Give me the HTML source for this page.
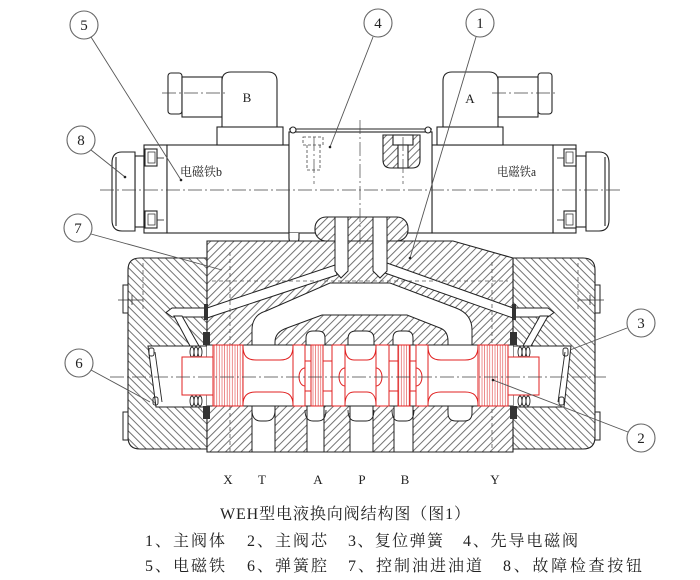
<!DOCTYPE html>
<html><head><meta charset="utf-8">
<style>html,body{margin:0;padding:0;background:#fff}svg{display:block}</style>
</head>
<body>
<svg xmlns="http://www.w3.org/2000/svg" width="700" height="580" viewBox="0 0 700 580">
<defs>
<pattern id="hf" patternUnits="userSpaceOnUse" width="5.5" height="5.5" patternTransform="rotate(45)"><rect width="5.5" height="5.5" fill="#fff"/><line x1="0.5" y1="0" x2="0.5" y2="5.5" stroke="#444" stroke-width="0.75"/></pattern>
<pattern id="hb" patternUnits="userSpaceOnUse" width="5.5" height="5.5" patternTransform="rotate(-45)"><rect width="5.5" height="5.5" fill="#fff"/><line x1="0.5" y1="0" x2="0.5" y2="5.5" stroke="#444" stroke-width="0.75"/></pattern>
<pattern id="hr" patternUnits="userSpaceOnUse" width="2.6" height="10"><rect width="2.6" height="10" fill="#fff"/><line x1="1" y1="0" x2="1" y2="10" stroke="#e04040" stroke-width="0.6"/></pattern>
</defs>
<rect width="700" height="580" fill="#fff"/>

<!-- ===== Solenoid b (left) ===== -->
<g fill="#fff" stroke="#222" stroke-width="1.1">
  <rect x="135" y="156" width="9" height="71"/>
  <path d="M135,152 L122,152 Q112,152 112,163 L112,220 Q112,231 122,231 L135,231 Z"/>
  <line x1="116" y1="157" x2="116" y2="226"/>
  <rect x="144" y="145" width="23" height="88"/>
  <rect x="167" y="145" width="122" height="88"/>
  <rect x="145" y="149" width="12" height="17"/>
  <rect x="148" y="152" width="7" height="11" stroke-width="0.7"/>
  <rect x="145" y="211" width="12" height="17"/>
  <rect x="148" y="214" width="7" height="11" stroke-width="0.7"/>
  <line x1="157" y1="158" x2="164" y2="158" stroke-width="0.8"/>
  <line x1="157" y1="220" x2="164" y2="220" stroke-width="0.8"/>
  <!-- connector B -->
  <rect x="168" y="73" width="14" height="41" rx="3"/>
  <rect x="182" y="77" width="40" height="40"/>
  <path d="M222,127 L222,81 Q222,72 231,72 L268,72 Q277,72 277,81 L277,127 Z"/>
  <rect x="217" y="127" width="66" height="18"/>
</g>

<!-- ===== Solenoid a (right) ===== -->
<g fill="#fff" stroke="#222" stroke-width="1.1">
  <rect x="576" y="156" width="10" height="71"/>
  <path d="M586,152 L599,152 Q609,152 609,163 L609,220 Q609,231 599,231 L586,231 Z"/>
  <line x1="605" y1="157" x2="605" y2="226"/>
  <rect x="553" y="145" width="23" height="88"/>
  <rect x="432" y="145" width="121" height="88"/>
  <rect x="564" y="149" width="12" height="17"/>
  <rect x="566" y="152" width="7" height="11" stroke-width="0.7"/>
  <rect x="564" y="211" width="12" height="17"/>
  <rect x="566" y="214" width="7" height="11" stroke-width="0.7"/>
  <line x1="557" y1="158" x2="564" y2="158" stroke-width="0.8"/>
  <line x1="557" y1="220" x2="564" y2="220" stroke-width="0.8"/>
  <!-- connector A -->
  <rect x="538" y="73" width="14" height="41" rx="3"/>
  <rect x="498" y="77" width="40" height="40"/>
  <path d="M443,127 L443,81 Q443,72 452,72 L489,72 Q498,72 498,81 L498,127 Z"/>
  <rect x="437" y="127" width="66" height="18"/>
</g>

<!-- ===== Pilot valve body ===== -->
<g stroke="#222" stroke-width="1.1" fill="#fff">
  <rect x="289" y="132" width="143" height="101"/>
  <line x1="289" y1="129" x2="432" y2="129"/>
  <circle cx="293" cy="130" r="3"/>
  <circle cx="428" cy="130" r="3"/>
  <path d="M383,135 L383,160 Q383,168 391,168 L412,168 Q420,168 420,160 L420,135 Z" fill="url(#hf)"/>
  <rect x="393" y="135" width="20" height="10"/>
  <rect x="398" y="145" width="10" height="23"/>
  <path d="M289,233 L289,238 Q289,243 294,243 Q299,243 299,238 L299,233" />
</g>
<g stroke="#444" stroke-width="0.8" fill="none" stroke-dasharray="3,2">
  <rect x="303" y="137" width="20" height="8"/>
  <line x1="307" y1="145" x2="307" y2="170"/>
  <line x1="320" y1="145" x2="320" y2="170"/>
  <line x1="307" y1="170" x2="320" y2="170"/>
</g>

<!-- ===== End caps ===== -->
<path d="M140,258 L207,258 L207,449 L140,449 Q128,449 128,437 L128,270 Q128,258 140,258 Z" fill="url(#hb)" stroke="#222" stroke-width="1.1"/>
<path d="M513,258 L583,258 Q595,258 595,270 L595,437 Q595,449 583,449 L513,449 Z" fill="url(#hb)" stroke="#222" stroke-width="1.1"/>
<g fill="#fff" stroke="#222" stroke-width="1">
  <rect x="123" y="285" width="5" height="28"/>
  <rect x="123" y="412" width="5" height="28"/>
  <rect x="595" y="285" width="5" height="28"/>
  <rect x="595" y="412" width="5" height="28"/>
</g>

<!-- ===== Center block ===== -->
<path d="M207,241 L453,241 L513,258 L513,452 L207,452 Z" fill="url(#hf)" stroke="#222" stroke-width="1.1"/>

<!-- pilot bump -->
<rect x="315" y="217" width="93" height="24" rx="11" fill="url(#hf)" stroke="#222" stroke-width="1.1"/>

<!-- white cavities -->
<g fill="#fff" stroke="#222" stroke-width="1">
  <!-- sloped channels -->
  <polygon points="207,308 335,265 337,275 207,318"/>
  <polygon points="387,263 513,308 513,318 385,273"/>
  <!-- bolts -->
  <path d="M335,217 L335,271 L341,278 L348,271 L348,217 Z"/>
  <path d="M373,217 L373,271 L380,278 L387,271 L387,217 Z"/>
  <!-- arch -->
  <path d="M252,346 L252,330 Q252,315 266,311 L330,283 L390,283 L456,308 Q472,314 472,330 L472,346 L448,346 L448,341 Q448,331 440,328 L407,315 L322,315 L287,328 Q275,332 275,342 L275,346 Z"/>
  <!-- upper chambers -->
  <path d="M306,347 L306,338 Q306,331 313,331 L318,331 Q325,331 325,338 L325,347"/>
  <path d="M348,347 L348,339 Q348,331 356,331 L366,331 Q374,331 374,339 L374,347"/>
  <path d="M393,347 L393,338 Q393,331 400,331 L406,331 Q413,331 413,338 L413,347"/>
  <!-- lower channels -->
  <rect x="252" y="404" width="23" height="48"/>
  <rect x="307" y="404" width="17" height="48"/>
  <rect x="350" y="404" width="23" height="48"/>
  <rect x="394" y="404" width="19" height="48"/>
  <path d="M448,404 L448,413 Q448,421 456,421 L464,421 Q472,421 472,413 L472,404"/>
  <!-- spring chambers -->
  <polygon points="148,346 207,346 207,407 156,407"/>
  <polygon points="513,346 571,346 564,407 513,407"/>
  <!-- drill holes -->
  <path d="M207,308 L172,308 L166,312.5 L172,317 L207,317 Z"/>
  <polygon points="174,316 182,316 199,346 190,346"/>
  <path d="M513,308 L548,308 L554,312.5 L548,317 L513,317 Z"/>
  <polygon points="540,316 548,316 531,346 523,346"/>
</g>
<g fill="none" stroke="#222" stroke-width="0.9">
  <path d="M252,410 Q252,421 261,421 L266,421 Q275,421 275,410"/>
  <path d="M305,410 Q305,421 313,421 L318,421 Q326,421 326,410"/>
  <path d="M348,410 Q348,421 356,421 L366,421 Q374,421 374,410"/>
  <path d="M392,410 Q392,421 399,421 L406,421 Q414,421 414,410"/>
</g>

<!-- bore -->
<rect x="207" y="345" width="306" height="61" fill="#fff"/>
<g stroke="#222" stroke-width="1">
  <line x1="207" y1="345" x2="513" y2="345"/>
  <line x1="207" y1="406" x2="513" y2="406"/>
</g>

<!-- hidden lines -->
<g stroke="#555" stroke-width="0.8" fill="none" stroke-dasharray="4,3">
  <line x1="212" y1="281" x2="508" y2="281"/>
  <line x1="230" y1="252" x2="230" y2="452"/>
  <line x1="492" y1="262" x2="492" y2="452"/>
  <line x1="143" y1="263" x2="143" y2="312"/>
  <line x1="578" y1="263" x2="578" y2="312"/>
</g>

<!-- seals -->
<g fill="#333">
  <rect x="203" y="332" width="7" height="13"/>
  <rect x="203" y="406" width="7" height="13"/>
  <rect x="510" y="332" width="7" height="13"/>
  <rect x="510" y="406" width="7" height="13"/>
  <rect x="204" y="304" width="4" height="16"/>
  <rect x="512" y="304" width="4" height="16"/>
</g>

<!-- springs -->
<g fill="none" stroke="#222" stroke-width="0.9">
  <ellipse cx="192" cy="352" rx="2" ry="5"/><ellipse cx="196" cy="352" rx="2" ry="5"/><ellipse cx="200" cy="352" rx="2" ry="5"/>
  <ellipse cx="192" cy="401" rx="2" ry="5"/><ellipse cx="196" cy="401" rx="2" ry="5"/><ellipse cx="200" cy="401" rx="2" ry="5"/>
  <ellipse cx="520" cy="352" rx="2" ry="5"/><ellipse cx="524" cy="352" rx="2" ry="5"/><ellipse cx="528" cy="352" rx="2" ry="5"/>
  <ellipse cx="520" cy="401" rx="2" ry="5"/><ellipse cx="524" cy="401" rx="2" ry="5"/><ellipse cx="528" cy="401" rx="2" ry="5"/>
  <line x1="155" y1="352" x2="162" y2="402"/>
  <line x1="565" y1="352" x2="558" y2="402"/>
  <rect x="149" y="348" width="5" height="8" rx="2"/>
  <rect x="153" y="397" width="5" height="8" rx="2"/>
  <rect x="563" y="348" width="5" height="8" rx="2"/>
  <rect x="559" y="397" width="5" height="8" rx="2"/>
</g>

<!-- ===== Spool (red) ===== -->
<g stroke="#e02020" stroke-width="1" fill="#fff">
  <rect x="182" y="357" width="31" height="38"/>
  <rect x="508" y="357" width="31" height="38"/>
  <path d="M243,346 C243,356 247,360 256,360 L280,360 C289,360 293,356 293,346 L293,405 C293,396 289,392 280,392 L256,392 C247,392 243,396 243,405 Z"/>
  <path d="M428,346 C428,356 432,360 441,360 L465,360 C474,360 478,356 478,346 L478,405 C478,396 474,392 465,392 L441,392 C432,392 428,396 428,405 Z"/>
  <path d="M345,346 C345,355 348,360 354,360 L367,360 C373,360 376,355 376,346 L376,405 C376,397 373,392 367,392 L354,392 C348,392 345,397 345,405 Z"/>
  <rect x="305" y="361" width="6" height="30"/>
  <rect x="323" y="361" width="9" height="30"/>
  <rect x="389" y="361" width="9" height="30"/>
  <rect x="410" y="361" width="6" height="30"/>
  <rect x="213" y="345" width="30" height="61" fill="url(#hr)"/>
  <rect x="478" y="345" width="30" height="61" fill="url(#hr)"/>
  <rect x="311" y="345" width="12" height="61" fill="url(#hr)"/>
  <rect x="398" y="345" width="12" height="61" fill="url(#hr)"/>
  <rect x="293" y="345" width="12" height="61"/>
  <rect x="332" y="345" width="13" height="61"/>
  <rect x="376" y="345" width="13" height="61"/>
  <rect x="416" y="345" width="12" height="61"/>
  <path d="M305,368 A6,9 0 0 0 305,386" fill="none"/>
  <path d="M345,368 A6,9 0 0 0 345,386" fill="none"/>
  <path d="M376,368 A6,9 0 0 1 376,386" fill="none"/>
  <path d="M416,368 A6,9 0 0 1 416,386" fill="none"/>
</g>

<!-- center lines -->
<g stroke="#444" stroke-width="0.7" fill="none" stroke-dasharray="14,3,2,3">
  <line x1="110" y1="377" x2="606" y2="377"/>
  <line x1="100" y1="190" x2="620" y2="190"/>
  <line x1="360" y1="120" x2="360" y2="245"/>
  <line x1="162" y1="93" x2="228" y2="93"/>
  <line x1="492" y1="93" x2="558" y2="93"/>
  <line x1="314" y1="137" x2="314" y2="184"/>
  <line x1="403" y1="137" x2="403" y2="184"/>
</g>
<g stroke="#333" stroke-width="0.8">
  <line x1="118" y1="300" x2="143" y2="300"/>
  <line x1="132" y1="295" x2="132" y2="305"/>
  <line x1="578" y1="300" x2="604" y2="300"/>
  <line x1="590" y1="295" x2="590" y2="305"/>
</g>

<!-- ===== Leaders ===== -->
<g stroke="#555" stroke-width="0.9" fill="none">
  <line x1="91" y1="37" x2="181" y2="180"/>
  <line x1="373" y1="37" x2="330" y2="147"/>
  <line x1="476" y1="37" x2="410" y2="258"/>
  <line x1="91" y1="150" x2="125" y2="177"/>
  <line x1="91" y1="234" x2="222" y2="270"/>
  <line x1="91" y1="370" x2="150" y2="402"/>
  <line x1="627" y1="328" x2="570" y2="350"/>
  <line x1="628" y1="432" x2="493" y2="380"/>
</g>
<g fill="#222">
  <circle cx="181" cy="180" r="1.3"/><circle cx="330" cy="147" r="1.3"/>
  <circle cx="410" cy="258" r="1.3"/><circle cx="125" cy="177" r="1.3"/>
  <circle cx="493" cy="380" r="1.3"/>
</g>
<g fill="#fff" stroke="#666" stroke-width="1.1">
  <circle cx="84" cy="25" r="14"/>
  <circle cx="378" cy="23" r="14"/>
  <circle cx="480" cy="23" r="14"/>
  <circle cx="81" cy="140" r="14"/>
  <circle cx="78" cy="228" r="14"/>
  <circle cx="79" cy="363" r="14"/>
  <circle cx="641" cy="323" r="14"/>
  <circle cx="641" cy="438" r="14"/>
</g>
<g font-family="'Liberation Serif', serif" font-size="15" fill="#222" text-anchor="middle">
  <text x="84" y="30">5</text>
  <text x="378" y="28">4</text>
  <text x="480" y="28">1</text>
  <text x="81" y="145">8</text>
  <text x="78" y="233">7</text>
  <text x="79" y="368">6</text>
  <text x="641" y="328">3</text>
  <text x="641" y="443">2</text>
</g>

<!-- connector / solenoid labels -->
<g font-family="'Liberation Serif', serif" font-size="13" fill="#222" text-anchor="middle">
  <text x="247" y="102">B</text>
  <text x="470" y="103">A</text>
</g>
<g font-family="'Liberation Serif', 'Noto Serif CJK SC', serif" font-size="12.5" fill="#222">
  <text x="180" y="176" textLength="42" lengthAdjust="spacingAndGlyphs">电磁铁b</text>
  <text x="497" y="176" textLength="39" lengthAdjust="spacingAndGlyphs">电磁铁a</text>
</g>

<!-- port labels -->
<g font-family="'Liberation Serif', serif" font-size="13" fill="#222" text-anchor="middle">
  <text x="228" y="484">X</text>
  <text x="262" y="484">T</text>
  <text x="318" y="484">A</text>
  <text x="362" y="484">P</text>
  <text x="405" y="484">B</text>
  <text x="495" y="484">Y</text>
</g>

<!-- captions -->
<g font-family="'Liberation Serif', 'Noto Serif CJK SC', serif" font-size="16" fill="#222">
  <text x="220" y="519" textLength="250" lengthAdjust="spacing">WEH型电液换向阀结构图（图1）</text>
  <text x="145" y="546" textLength="80" lengthAdjust="spacing">1、主阀体</text>
  <text x="247" y="546" textLength="80" lengthAdjust="spacing">2、主阀芯</text>
  <text x="348" y="546" textLength="95" lengthAdjust="spacing">3、复位弹簧</text>
  <text x="463" y="546" textLength="115" lengthAdjust="spacing">4、先导电磁阀</text>
  <text x="145" y="571" textLength="80" lengthAdjust="spacing">5、电磁铁</text>
  <text x="247" y="571" textLength="80" lengthAdjust="spacing">6、弹簧腔</text>
  <text x="348" y="571" textLength="134" lengthAdjust="spacing">7、控制油进油道</text>
  <text x="503" y="571" textLength="139" lengthAdjust="spacing">8、故障检查按钮</text>
</g>
</svg>
</body>
</html>
